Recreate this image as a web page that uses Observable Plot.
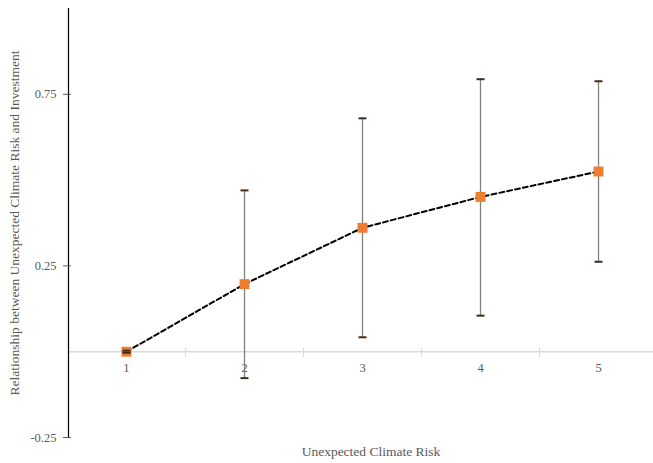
<!DOCTYPE html>
<html>
<head>
<meta charset="utf-8">
<script src="https://cdn.jsdelivr.net/npm/d3@7"></script>
<script src="https://cdn.jsdelivr.net/npm/@observablehq/plot@0.6"></script>
<style>
  html, body { margin: 0; padding: 0; background: #fff; }
  #chart svg, #chart svg text { font-family: "Liberation Serif", "Times New Roman", serif !important; }
</style>
</head>
<body>
<div id="chart"></div>
<script>
const categories = [1, 2, 3, 4, 5];
const estimates  = [0.000, 0.197, 0.361, 0.451, 0.525];
const lower      = [-0.003, -0.077, 0.042, 0.105, 0.262];
const upper      = [0.003, 0.470, 0.680, 0.794, 0.788];
const yTicks = [0.75, 0.25, -0.25];
const xBoundaries = [1.5, 2.5, 3.5, 4.5];
const xTitle = "Unexpected Climate Risk";
const yTitle = "Relationship between Unexpected Climate Risk and Investment";

const data = categories.map((c, i) => ({x: c, y: estimates[i], lo: lower[i], hi: upper[i]}));

const capSymbol = { draw(ctx) { ctx.moveTo(-4, 0); ctx.lineTo(4, 0); } };
const vTickSymbol = { draw(ctx) { ctx.moveTo(0, -4); ctx.lineTo(0, 5); } };

const xDomain = [0.5085, 5.466];
const textColor = "#595959";

const chart = Plot.plot({
  width: 653,
  height: 463,
  marginLeft: 68,
  marginRight: 0,
  marginTop: 8,
  marginBottom: 26,
  style: { fontFamily: "'Liberation Serif', 'Times New Roman', serif", fontSize: "12px", background: "#fff" },
  x: { type: "linear", domain: xDomain, axis: null },
  y: { domain: [-0.25, 1.0], axis: null },
  marks: [
    Plot.ruleY([0], { x1: xDomain[0], x2: xDomain[1], stroke: "#d9d9d9", strokeWidth: 1.5 }),
    Plot.dot(xBoundaries, { x: d => d, y: 0, symbol: vTickSymbol, r: 4, stroke: "#d9d9d9", strokeWidth: 1, fill: "none" }),
    Plot.text(categories, { x: d => d, y: 0, text: d => String(d), dy: 16, fill: textColor, fontSize: 12.5 }),
    Plot.ruleX([xDomain[0]], { y1: -0.25, y2: 1.0, stroke: "#000", strokeWidth: 1.2 }),
    Plot.axisY({ ticks: yTicks, tickFormat: d => String(d), tickSize: 8, tickPadding: 7, dx: 3, fill: textColor, stroke: "#595959", fontSize: 12.5, label: null }),
    Plot.text([yTitle], { frameAnchor: "left", textAnchor: "middle", dx: -54, rotate: -90, fill: textColor, fontSize: 13.5 }),
    Plot.text([xTitle], { frameAnchor: "bottom", textAnchor: "middle", dx: 10, dy: 18, fill: textColor, fontSize: 13.5 }),
    Plot.line(data, { x: "x", y: "y", stroke: "#000", strokeWidth: 2, strokeDasharray: "5,3" }),
    Plot.ruleX(data, { x: "x", y1: "lo", y2: "hi", stroke: "#808080", strokeWidth: 1.3 }),
    Plot.dot(data, { x: "x", y: "y", symbol: "square", r: 5.6, fill: "#ED7D31", stroke: "none" }),
    Plot.dot(data, { x: "x", y: "lo", symbol: capSymbol, r: 4, stroke: "#3f2d1c", strokeWidth: 2, fill: "none" }),
    Plot.dot(data, { x: "x", y: "hi", symbol: capSymbol, r: 4, stroke: "#3f2d1c", strokeWidth: 2, fill: "none" })
  ]
});
document.getElementById("chart").appendChild(chart);
</script>
</body>
</html>
